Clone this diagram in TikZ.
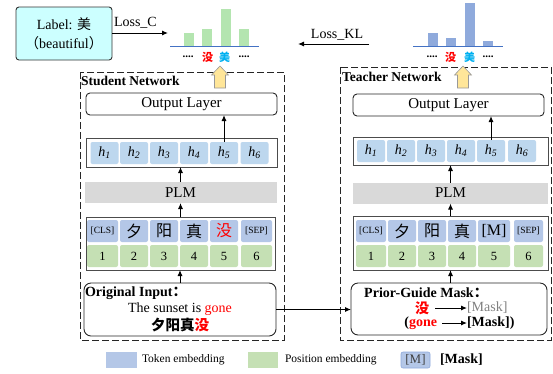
\documentclass[tikz,border=0pt]{standalone}
\usepackage{fontspec}
\setmainfont{Liberation Serif}
\newfontfamily\cjk{Noto Sans CJK SC}
\usetikzlibrary{arrows.meta}
\definecolor{tokblue}{HTML}{B4C7E7}
\definecolor{posgreen}{HTML}{C5E0B4}
\definecolor{hblue}{HTML}{BDD7EE}
\definecolor{plmgray}{HTML}{D9D9D9}
\definecolor{bargreen}{HTML}{B4E5B0}
\definecolor{barblue}{HTML}{8FAADC}
\definecolor{axisblue}{HTML}{4472C4}
\definecolor{arrowyellow}{HTML}{FFE699}
\definecolor{labelcyan}{HTML}{CCFFFF}
\definecolor{mred}{HTML}{FF0000}
\definecolor{mblue}{HTML}{00B0F0}
\definecolor{maskgray}{HTML}{808080}
\newcommand{\fs}[1]{\fontsize{#1}{#1}\selectfont}
\begin{document}
\begin{tikzpicture}[x=1pt,y=-1pt,
  every node/.style={inner sep=0pt, outer sep=0pt},
  outbox/.style={draw=black!85, line width=0.9pt, rounded corners=4pt, minimum width=191pt, minimum height=22pt, font=\fs{15}},
  contbox/.style={draw=black!70, line width=0.9pt, fill=white},
  hbox/.style={fill=hblue, rounded corners=2pt, minimum width=28pt, minimum height=22pt, font=\fs{14}\itshape},
  plmbox/.style={fill=plmgray, minimum height=21pt, font=\fs{15}},
  tokbox/.style={fill=tokblue, rounded corners=2pt, minimum height=22pt},
  posbox/.style={fill=posgreen, rounded corners=2pt, minimum height=22pt, font=\fs{12.5}},
  inbox/.style={draw=black!85, line width=0.9pt, rounded corners=7pt},
  netbox/.style={draw=black!85, line width=0.9pt, dash pattern=on 7pt off 3pt},
  arr/.style={-{Latex[length=6pt,width=5pt]}, line width=1pt, black},
  yarrow/.style={draw=black!40, fill=arrowyellow, line width=0.6pt},
  cjkt/.style={font=\cjk\fs{16}},
  small/.style={font=\fs{9.5}},
]
\useasboundingbox (0,0) rectangle (553,373);

% ---------- network frames ----------
\draw[netbox] (80,72) rectangle (284,340);
\draw[netbox] (340,67) rectangle (551,340);
\node[anchor=west, font=\bfseries\fs{13.5}] (sname) at (81,81) {Student Network};
\node[anchor=west, font=\bfseries\fs{13.5}] (tname) at (342,77) {Teacher Network};

% ---------- label box and losses ----------
\node[draw=black!80, line width=0.9pt, fill=labelcyan, rounded corners=3pt, minimum width=96pt, minimum height=53pt, align=center, font=\fs{14}] (lbl) at (64,33.5) {Label: {\cjk 美}\\[5pt]{\cjk （}beautiful{\cjk ）}};
\coordinate (lossCend) at (168,33);
\draw[arr] (lbl.east |- lossCend) -- (lossCend);
\node[anchor=south west, font=\fs{14}] (lossC) at (114,28) {Loss\_C};

\coordinate (klstart) at (369,44);
\coordinate (klend) at (298,44);
\draw[arr] (klstart) -- (klend);
\node[anchor=south, font=\fs{14}] (lossKL) at (337,40) {Loss\_KL};

% ---------- student bar chart ----------
\fill[bargreen] (184,33) rectangle (194,46);
\fill[bargreen] (202,29) rectangle (212,46);
\fill[bargreen] (221,9) rectangle (231,46);
\fill[bargreen] (239,29) rectangle (249,46);
\draw[axisblue, line width=1pt] (170,46) -- (259,46);
\node[font=\bfseries\fs{11}] (sd1) at (188,57) {....};
\node[font=\cjk\bfseries\fs{11}, text=mred] (smei) at (207.5,57) {没};
\node[font=\cjk\bfseries\fs{11}, text=mblue] (sbeau) at (224.5,57) {美};
\node[font=\bfseries\fs{11}] (sd2) at (244,57) {....};

% ---------- teacher bar chart ----------
\fill[barblue] (428,33) rectangle (438,46);
\fill[barblue] (446,38) rectangle (456,46);
\fill[barblue] (465,3) rectangle (475,46);
\fill[barblue] (483,41) rectangle (493,46);
\draw[axisblue, line width=1pt] (413,46) -- (503,46);
\node[font=\bfseries\fs{11}] (td1) at (432,57) {....};
\node[font=\cjk\bfseries\fs{11}, text=mred] (tmei) at (450.5,57) {没};
\node[font=\cjk\bfseries\fs{11}, text=mblue] (tbeau) at (469.5,57) {美};
\node[font=\bfseries\fs{11}] (td2) at (488,57) {....};

% ---------- yellow arrows ----------
\draw[yarrow] (214.5,88) -- (214.5,75) -- (211.5,75) -- (220,66) -- (228.5,75) -- (225.5,75) -- (225.5,88) -- cycle;
\draw[yarrow] (457.5,88) -- (457.5,75) -- (454.5,75) -- (463,66) -- (471.5,75) -- (468.5,75) -- (468.5,88) -- cycle;

% ================= STUDENT =================
\node[outbox] (outS) at (181.5,104) {Output Layer};
\node[contbox, minimum width=191pt, minimum height=29pt] (hcS) at (181.5,152.5) {};
\foreach \i/\x in {1/104.5,2/134,3/164,4/194,5/224,6/254.5}
  \node[hbox] (hS\i) at (\x,153) {h\textsubscript{\i}};
\node[plmbox, minimum width=192pt] (plmS) at (180.5,192.5) {PLM};
\node[contbox, minimum width=189pt, minimum height=53pt] (ecS) at (180.5,243.5) {};
\node[tokbox, minimum width=31pt, small] (tS1) at (102.5,231) {[CLS]};
\node[tokbox, minimum width=28pt, cjkt] (tS2) at (134,231) {夕};
\node[tokbox, minimum width=28pt, cjkt] (tS3) at (164,231) {阳};
\node[tokbox, minimum width=28pt, cjkt] (tS4) at (194,231) {真};
\node[tokbox, minimum width=28pt, cjkt, text=mred] (tS5) at (224,231) {没};
\node[tokbox, minimum width=31pt, small] (tS6) at (256.5,231) {[SEP]};
\foreach \i/\x/\w in {1/102.5/31,2/134/28,3/164/28,4/194/28,5/224/28,6/256.5/31}
  \node[posbox, minimum width=\w pt] (pS\i) at (\x,256) {\i};
\node[inbox, minimum width=192pt, minimum height=53pt] (inS) at (180,309.5) {};
\node[anchor=west, font=\bfseries\fs{14}] (inStitle) at (85,293) {Original Input{\cjk ：}};
\node[font=\fs{14}] (inSen) at (180,309) {The sunset is \textcolor{mred}{gone}};
\node[font=\cjk\bfseries\fs{14.5}] (inSzh) at (180,325) {夕阳真\textcolor{mred}{没}};

\draw[arr] (inS.north) -- (inS.north |- ecS.south);
\draw[arr] (ecS.north) -- (plmS.south);
\draw[arr] (plmS.north) -- (plmS.north |- hcS.south);
\draw[arr] (hS5.north) -- (hS5.north |- outS.south);

% ================= TEACHER =================
\node[outbox] (outT) at (448.5,105) {Output Layer};
\node[contbox, minimum width=195pt, minimum height=28pt] (hcT) at (450.5,151) {};
\foreach \i/\x in {1/371,2/401,3/431,4/461,5/491,6/522}
  \node[hbox] (hT\i) at (\x,151) {h\textsubscript{\i}};
\node[plmbox, minimum width=195pt] (plmT) at (450.5,193) {PLM};
\node[contbox, minimum width=195pt, minimum height=54pt] (ecT) at (450.5,243) {};
\node[tokbox, minimum width=30pt, small] (tT1) at (371,231) {[CLS]};
\node[tokbox, minimum width=28pt, cjkt] (tT2) at (402,231) {夕};
\node[tokbox, minimum width=28pt, cjkt] (tT3) at (432,231) {阳};
\node[tokbox, minimum width=28pt, cjkt] (tT4) at (462,231) {真};
\node[tokbox, minimum width=32pt, font=\fs{16}] (tT5) at (494,231) {[M]};
\node[tokbox, minimum width=29pt, small] (tT6) at (528.5,231) {[SEP]};
\foreach \i/\x/\w in {1/371/30,2/402/28,3/432/28,4/462/28,5/494/32,6/528.5/29}
  \node[posbox, minimum width=\w pt] (pT\i) at (\x,256) {\i};
\node[inbox, minimum width=196pt, minimum height=52pt] (inT) at (449,309) {};
\node[font=\bfseries\fs{14}] (inTtitle) at (426,293) {Prior-Guide Mask{\cjk ：}};
\node[font=\cjk\bfseries\fs{14}, text=mred] (gmei) at (422,308) {没};
\node[anchor=west, font=\fs{14}, text=maskgray] (gmask1) at (467,308) {[Mask]};
\node[anchor=east, font=\bfseries\fs{14}] (ggone) at (437,323) {(\textcolor{mred}{gone}};
\node[anchor=west, font=\bfseries\fs{14}] (gmask2) at (467,323) {[Mask])};
\draw[arr] ([xshift=6pt]gmei.east) -- (gmask1.west);
\draw[arr] ([xshift=5pt]ggone.east) -- (gmask2.west);

\draw[arr] (inT.north -| ecT.north) -- (ecT.south);
\draw[arr] (ecT.north) -- (plmT.south);
\draw[arr] (plmT.north) -- (hcT.south);
\draw[arr] (hT5.north) -- (hT5.north |- outT.south);

% connector between inputs
\draw[arr] (inS.east) -- (inS.east -| inT.west);

% ---------- legend ----------
\node[fill=tokblue, minimum width=31pt, minimum height=16pt] (legTok) at (121.5,360) {};
\node[anchor=west, font=\fs{11.5}] (legTokT) at (142,360) {Token embedding};
\node[fill=posgreen, minimum width=30pt, minimum height=16pt] (legPos) at (263,360) {};
\node[anchor=west, font=\fs{11.5}] (legPosT) at (285,360) {Position embedding};
\node[fill=tokblue, draw=barblue, line width=0.6pt, rounded corners=2pt, minimum width=29pt, minimum height=16pt, font=\fs{13}, text=black!75] (legM) at (415.5,360) {[M]};
\node[anchor=west, font=\bfseries\fs{14}] (legMask) at (440,360) {[Mask]};
\end{tikzpicture}
\end{document}
